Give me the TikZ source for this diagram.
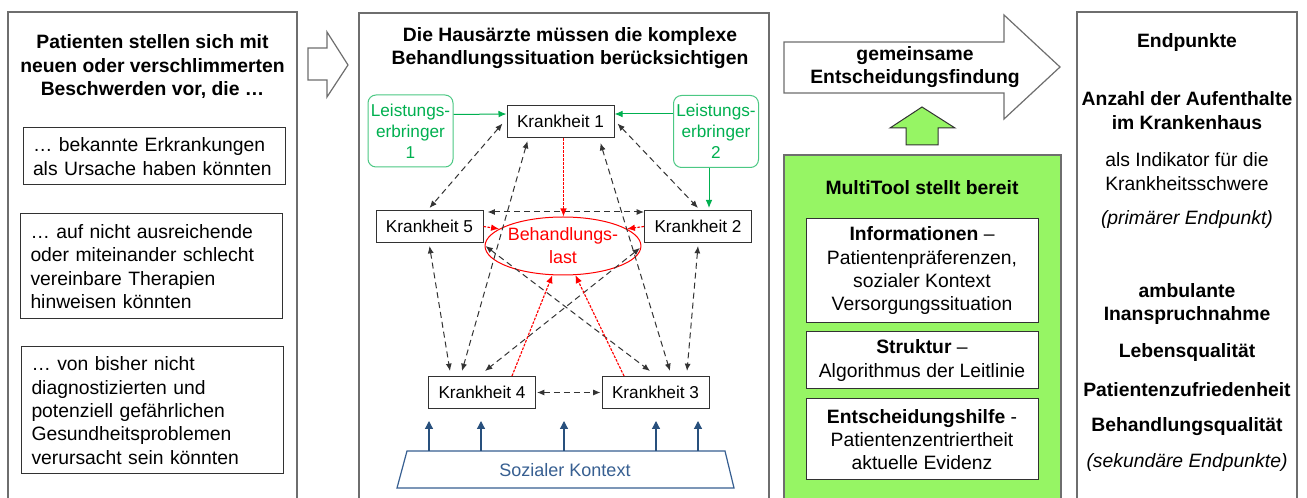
\documentclass[tikz,border=0pt]{standalone}
\usepackage{fontspec}
\setmainfont{Liberation Sans}
\usetikzlibrary{arrows.meta,calc,shapes.geometric}
\definecolor{outl}{RGB}{110,110,110}
\definecolor{inl}{RGB}{50,50,50}
\definecolor{lgreen}{RGB}{0,176,80}
\definecolor{mtgreen}{RGB}{150,245,100}
\definecolor{skblue}{RGB}{40,80,125}
\definecolor{sktext}{RGB}{55,95,145}
\definecolor{bred}{RGB}{255,0,0}
\newcommand\mainsz{\fontsize{14.5}{17.5}\selectfont}
\newcommand\ksz{\fontsize{12.9}{15.5}\selectfont}
\newcommand\lesz{\fontsize{12.9}{15.75}\selectfont}
\newcommand\blsz{\fontsize{13.4}{17.25}\selectfont}
\newcommand\sksz{\fontsize{13.5}{16}\selectfont}
\begin{document}
\begin{tikzpicture}[x=0.75pt,y=-0.75pt,
  outerbox/.style={draw=outl,line width=0.9pt},
  ltext/.style={draw=inl,line width=0.75pt,inner sep=0pt,minimum width=196.5pt,text width=181.5pt,align=left,font=\mainsz},
  kbox/.style={draw=inl,line width=0.75pt,inner sep=0pt,minimum width=80.25pt,minimum height=24pt,font=\ksz},
  lebox/.style={draw=lgreen!70,line width=0.75pt,rounded corners=6pt,inner sep=0pt,minimum width=63.75pt,minimum height=54pt,align=center,font=\lesz,text=lgreen},
  garrow/.style={draw=lgreen,line width=0.75pt,-{Latex[length=6pt,width=5pt]}},
  darrow/.style={draw=black!80,line width=0.75pt,dash pattern=on 4.5pt off 3pt,{Latex[length=5.5pt,width=4.5pt]}-{Latex[length=5.5pt,width=4.5pt]}},
  rarrow/.style={draw=bred,line width=0.85pt,dash pattern=on 2pt off 1pt,-{Latex[length=6pt,width=5pt]}},
  barrow/.style={draw=skblue,line width=0.9pt,-{Triangle[length=6pt,width=6pt]}},
  mtbox/.style={draw=inl,fill=white,line width=0.75pt,inner sep=0pt,minimum width=174pt,align=center,font=\mainsz},
  btitle/.style={align=center,font=\mainsz\bfseries},
  rtext/.style={align=center,font=\mainsz}
]
\useasboundingbox (0,0) rectangle (1307,498);
\clip (0,0) rectangle (1307,498);
\fill[white] (0,0) rectangle (1307,498);

% ---------- left column ----------
\draw[outerbox] (8,12) rectangle (297,520);
\node[btitle] (lt) at (152.5,66.5) {Patienten stellen sich mit\\neuen oder verschlimmerten\\Beschwerden vor, die \dots};
\node[ltext,minimum height=42.75pt] (l1) at (154,156.5) {… bekannte Erkrankungen\\als Ursache haben könnten};
\node[ltext,minimum height=78.75pt] (l2) at (151.5,266.5) {… auf nicht ausreichende\\oder miteinander schlecht\\vereinbare Therapien\\hinweisen könnten};
\node[ltext,minimum height=95.25pt] (l3) at (152.5,410.5) {… von bisher nicht\\diagnostizierten und\\potenziell gefährlichen\\Gesundheitsproblemen\\verursacht sein könnten};

% outline arrow 1
\draw[draw=outl,line width=0.9pt,fill=white,line join=miter] (308,48) -- (327,48) -- (327,32) -- (348,65) -- (327,97) -- (327,80) -- (308,80) -- cycle;

% ---------- middle column ----------
\draw[outerbox] (359,13) rectangle (769,520);
\node[btitle] (mt) at (570,48) {Die Hausärzte müssen die komplexe\\Behandlungssituation berücksichtigen};

\node[kbox] (k1) at (560.5,121.5) {Krankheit 1};
\node[kbox] (k2) at (698,226.5) {Krankheit 2};
\node[kbox] (k5) at (429.5,226.5) {Krankheit 5};
\node[kbox] (k4) at (482,392.5) {Krankheit 4};
\node[kbox] (k3) at (655.5,392.5) {Krankheit 3};

\node[lebox] (le1) at (410.5,131) {Leistungs-\\erbringer\\1};
\node[lebox] (le2) at (716,131.5) {Leistungs-\\erbringer\\2};

\node[draw=bred,ellipse,line width=0.75pt,minimum width=91.5pt,minimum height=43.5pt,inner sep=0pt,align=center,font=\blsz,text=bred] (bl) at (563,246) {Behandlungs-\\last};

% green arrows
\draw[garrow] ($(le1.north east)+(0,20)$) -- ($(k1.north west)+(0,9)$);
\draw[garrow] ($(le2.north west)+(0,19)$) -- ($(k1.north east)+(0,9)$);
\draw[garrow] ($(le2.south)+(-7,0)$) -- ($(k2.north)+(11,-2)$);

% dashed double arrows
\draw[darrow] ($(k1.west)+(-4,2)$) -- ($(k5.north)+(0,-2)$);
\draw[darrow] ($(k1.east)+(3,2)$) -- ($(k2.north)+(0,-2)$);
\draw[darrow] ($(k1.south)+(-33,3)$) -- ($(k4.north)+(-20,-5)$);
\draw[darrow] ($(k1.south)+(40,5)$) -- ($(k3.north)+(14.5,-5)$);
\draw[darrow] ($(k5.south)+(0,3)$) -- ($(k4.north)+(-32,-5)$);
\draw[darrow] ($(k5.south east)+(2,3)$) -- ($(k3.north)+(-5.5,-5)$);
\draw[darrow] ($(k2.south west)+(-4,5)$) -- ($(k4.north)+(3,-5)$);
\draw[darrow] ($(k2.south)+(0,3)$) -- ($(k3.north)+(31.5,-5)$);
\draw[darrow] ($(k5.north east)+(4,2)$) -- ($(k2.north west)+(0,2)$);
\draw[darrow] ($(k4.east)+(1,0)$) -- ($(k3.west)+(-1,0)$);

% red dotted arrows
\draw[rarrow] ($(k1.south)+(3,0)$) -- ($(bl.north)+(0.5,0)$);
\draw[rarrow] (k5.east) -- (bl.165);
\draw[rarrow] (k2.west) -- (bl.15);
\draw[rarrow] ($(k4.north)+(30,0)$) -- (bl.250);
\draw[rarrow] ($(k3.north)+(-31.5,0)$) -- (bl.293);

% social context
\draw[draw=sktext,line width=0.9pt,line join=miter] (407,451) -- (725,451) -- (734,488) -- (397,488) -- cycle;
\node[font=\sksz,text=sktext] (sk) at (565,470) {Sozialer Kontext};
\foreach \xx in {429,481,564,656,698} {
  \draw[barrow] (\xx,451) -- (\xx,421);
}

% ---------- MultiTool column ----------
\draw[draw=outl,line width=0.9pt,fill=white,line join=miter] (784,42) -- (1004,42) -- (1004,15) -- (1060,67) -- (1004,119) -- (1004,93) -- (784,93) -- cycle;
\node[btitle] (sdm) at (915,67) {gemeinsame\\Entscheidungsfindung};

\draw[draw=inl,line width=0.75pt,fill=mtgreen,line join=miter] (906,145) -- (906,128) -- (890,128) -- (922,107) -- (955,128) -- (938,128) -- (938,145) -- cycle;

\draw[draw=outl,line width=0.9pt,fill=mtgreen] (784,155) rectangle (1061,520);
\node[btitle] (mtt) at (922,188) {MultiTool stellt bereit};
\node[mtbox,minimum height=78pt] (info) at (922,271) {\textbf{Informationen} –\\Patientenpräferenzen,\\sozialer Kontext\\Versorgungssituation};
\node[mtbox,minimum height=42.75pt] (str) at (922,360.5) {\textbf{Struktur} –\\Algorithmus der Leitlinie};
\node[mtbox,minimum height=60.75pt] (eh) at (922,439.5) {\textbf{Entscheidungshilfe} -\\Patientenzentriertheit\\aktuelle Evidenz};

% ---------- Endpoints column ----------
\draw[outerbox] (1077,12) rectangle (1297,520);
\node[btitle] (ep) at (1187,43) {Endpunkte};
\node[btitle] (anz) at (1187,110.5) {Anzahl der Aufenthalte\\im Krankenhaus};
\node[rtext] (ind) at (1187,171.5) {als Indikator für die\\Krankheitsschwere};
\node[rtext,font=\mainsz\itshape] (prim) at (1187,220) {(primärer Endpunkt)};
\node[btitle] (amb) at (1187,304) {ambulante\\Inanspruchnahme};
\node[btitle] (leb) at (1187,353) {Lebensqualität};
\node[btitle] (pat) at (1187,390) {Patientenzufriedenheit};
\node[btitle] (beh) at (1187,427) {Behandlungsqualität};
\node[rtext,font=\mainsz\itshape] (sek) at (1187,463) {(sekundäre Endpunkte)};
\end{tikzpicture}
\end{document}
